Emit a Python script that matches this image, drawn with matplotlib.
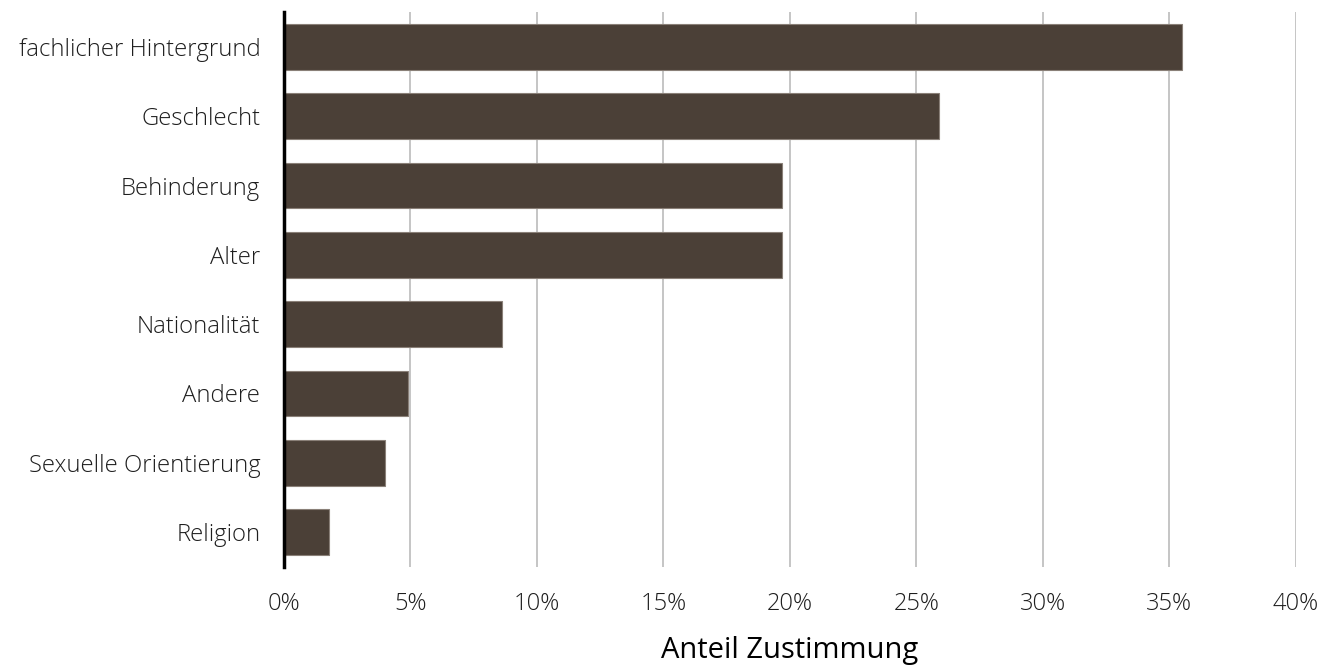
import matplotlib
matplotlib.use("Agg")
import matplotlib.pyplot as plt
from matplotlib.ticker import FuncFormatter, MultipleLocator

categories = ["fachlicher Hintergrund", "Geschlecht", "Behinderung", "Alter",
              "Nationalität", "Andere", "Sexuelle Orientierung", "Religion"]
values = [35.5, 25.9, 19.7, 19.7, 8.6, 4.9, 4.0, 1.8]

plt.rcParams['font.family'] = ['Open Sans', 'DejaVu Sans']

fig = plt.figure(figsize=(13.25, 6.66), dpi=100)
ax = fig.add_axes([0.2143, 0.1493, 0.978 - 0.2143, 0.9814 - 0.1493])

y = list(range(len(categories)))
ax.barh(y, values, height=0.66, color="#4b4037", edgecolor="#8a8078",
        linewidth=0.8, zorder=3)
ax.set_ylim(len(categories) - 0.5, -0.5)
ax.set_xlim(0, 40)
ax.set_yticks(y)
ax.set_yticklabels(categories, fontsize=17.2, color="#1e1e1e", fontweight="light")
ax.xaxis.set_major_locator(MultipleLocator(5))
ax.xaxis.set_major_formatter(FuncFormatter(lambda v, p: f"{v:.0f}%"))
ax.tick_params(axis='x', labelsize=17, colors="#1e1e1e", length=0, pad=18)
ax.tick_params(axis='y', length=0, pad=17)
for lbl in ax.get_xticklabels():
    lbl.set_fontweight("light")
ax.grid(axis='x', color="#b5b5b5", linewidth=1.1, zorder=0)
for s in ["top", "right", "bottom"]:
    ax.spines[s].set_visible(False)
ax.spines["left"].set_linewidth(2.5)
ax.spines["left"].set_color("black")
ax.spines["left"].set_zorder(4)
ax.set_xlabel("Anteil Zustimmung", fontsize=21, fontweight="normal",
              color="black", labelpad=14.5)

fig.savefig("out.png", dpi=100)
